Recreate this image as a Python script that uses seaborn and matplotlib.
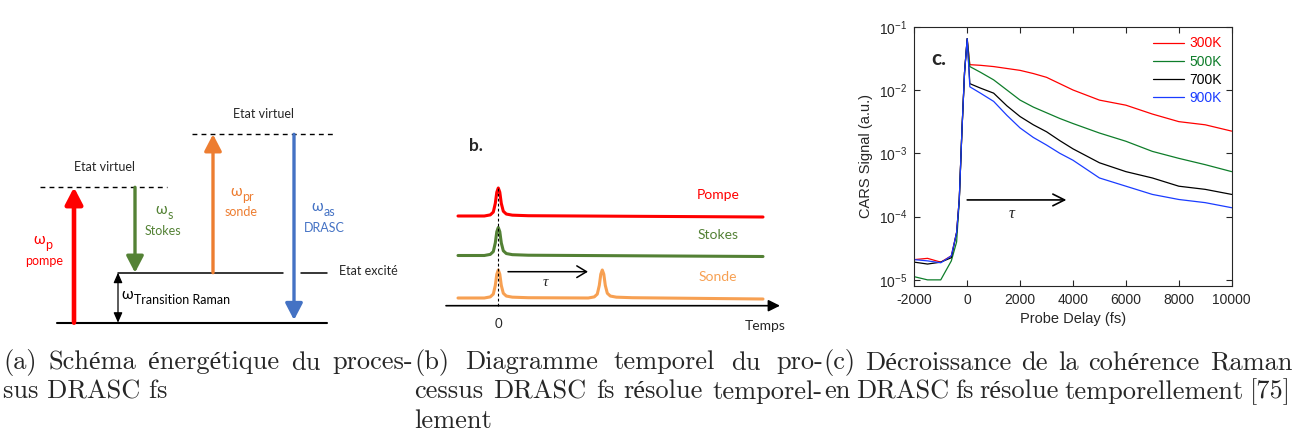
import matplotlib
matplotlib.use("Agg")
import matplotlib.pyplot as plt
import numpy as np
import pandas as pd
import seaborn as sns

# ---- panel (c): CARS signal vs probe delay, log10 values
delay_fs = [-2000, -1500, -1000, -600, -400, -300, -200, -100, 0, 100, 500, 1000, 1500,
            2000, 2500, 3000, 3500, 4000, 5000, 6000, 7000, 8000, 9000, 10000]
log_300K = [-4.68, -4.66, -4.72, -4.62, -4.25, -3.73, -2.65, -1.72, -1.19, -1.60, -1.61, -1.63, -1.66,
            -1.69, -1.74, -1.80, -1.90, -2.00, -2.16, -2.24, -2.38, -2.50, -2.55, -2.65]
log_500K = [-4.95, -5.00, -5.00, -4.70, -4.40, -3.75, -2.65, -1.72, -1.19, -1.63, -1.72, -1.84, -2.00,
            -2.16, -2.27, -2.36, -2.45, -2.53, -2.68, -2.81, -2.97, -3.08, -3.18, -3.29]
log_700K = [-4.72, -4.75, -4.72, -4.65, -4.25, -3.73, -2.65, -1.72, -1.19, -1.90, -1.97, -2.05, -2.25,
            -2.42, -2.55, -2.66, -2.80, -2.93, -3.15, -3.29, -3.39, -3.52, -3.57, -3.65]
log_900K = [-4.68, -4.70, -4.73, -4.62, -4.25, -3.73, -2.65, -1.72, -1.19, -1.95, -2.05, -2.18, -2.40,
            -2.60, -2.75, -2.87, -3.00, -3.11, -3.39, -3.52, -3.65, -3.73, -3.78, -3.86]
temperatures = ["300K", "500K", "700K", "900K"]
temp_colors = ["#ff0000", "#0e7d2a", "#000000", "#1a3cff"]
x_ticks_c = [-2000, 0, 2000, 4000, 6000, 8000, 10000]
y_ticks_c = [1e-5, 1e-4, 1e-3, 1e-2, 1e-1]

# ---- panel (a): energy diagram (x position, energy in arbitrary units)
level_energy = {"ground": 17.3, "excited": 67.3, "virtual1": 152.7, "virtual2": 205.7}
level_span = {"ground": (57, 327), "excited": (118, 283), "virtual1": (40, 167), "virtual2": (192, 335)}
beam_names = ["pompe", "Stokes", "sonde", "DRASC"]
beam_subs = ["p", "s", "pr", "as"]
beam_x = [74, 135, 213, 294]
beam_from = ["ground", "virtual1", "excited", "virtual2"]
beam_to = [152.7, 67.3, 205.7, 20.0]
beam_colors = ["#ff0000", "#548235", "#ed7d31", "#4472c4"]
beam_lw = [3.3, 2.4, 2.4, 2.4]
omega_pos = [(33, 100), (155, 130), (230, 148.3), (311.7, 133.3)]
name_pos = [(44.5, 79), (163, 109.3), (241, 128.3), (324, 111.7)]

# ---- panel (b): pulse timing diagram
pulse_labels = ["Pompe", "Stokes", "Sonde"]
pulse_colors = ["#ff0000", "#538135", "#f7a052"]
pulse_base = [124, 84.5, 42]
pulse_times = [[0], [0], [0, 104]]
pulse_height = 28
pulse_dt = [-14, -8, -5, -3, -1.5, 0, 1.5, 3, 5, 8, 14, 30]
pulse_shape = [0.0, 0.04, 0.14, 0.45, 0.85, 1.0, 0.85, 0.45, 0.17, 0.07, 0.03, 0.01]
trace_start, trace_end = -40.3, 264.7

captions = [
    [("(a) Schéma énergétique du proces-", 3, 413, True), ("sus DRASC fs", 3, None, False)],
    [("(b) Diagramme temporel du pro-", 414, 823, True),
     ("cessus DRASC fs résolue temporel-", 414, 823, True), ("lement", 414, None, False)],
    [("(c) Décroissance de la cohérence Raman", 823, 1292, True),
     ("en DRASC fs résolue temporellement [75]", 824, 1291, True)],
]
caption_baselines = [369.5, 398.5, 428.5]

W, H = 1296, 442
sns.set_style("ticks")
plt.rcParams["font.family"] = ["Liberation Sans", "DejaVu Sans"]
plt.rcParams["axes.unicode_minus"] = False
plt.rcParams["mathtext.fontset"] = "custom"
plt.rcParams["mathtext.rm"] = "Liberation Sans"
plt.rcParams["mathtext.it"] = "Liberation Sans:italic"

fig = plt.figure(figsize=(W / 100, H / 100), dpi=100)
LBL = ["Lato", "DejaVu Sans"]


def px_axes(x0, y0, x1, y1):
    ax = fig.add_axes([x0 / W, (H - y1) / H, (x1 - x0) / W, (y1 - y0) / H])
    ax.set_axis_off()
    return ax


def omega_label(ax, x, y, sub, color, size=11):
    t = ax.text(x, y, "ω", color=color, fontsize=size, family=LBL, ha="left", va="center")
    ax.annotate(sub, xy=(1, 0.5), xycoords=t, xytext=(0.5, -3.6), textcoords="offset points",
                color=color, fontsize=9, family=LBL, ha="left", va="center")


# ================= panel (a)
ax_a = px_axes(0, 90, 415, 340)
ax_a.set_xlim(0, 415)
ax_a.set_ylim(0, 250)
ax_a.plot(level_span["ground"], [level_energy["ground"]] * 2, color="black", lw=1.5)
ax_a.plot(level_span["excited"], [level_energy["excited"]] * 2, color="black", lw=1.1)
ax_a.plot([301, 327], [level_energy["excited"]] * 2, color="black", lw=1.1)
for lev in ["virtual1", "virtual2"]:
    ax_a.plot(level_span[lev], [level_energy[lev]] * 2, color="black", lw=1.0, dashes=(3.5, 3))

for x, src, dst, c, lw in zip(beam_x, beam_from, beam_to, beam_colors, beam_lw):
    ax_a.annotate("", xy=(x, dst), xytext=(x, level_energy[src]),
                  arrowprops=dict(arrowstyle="-|>,head_length=0.5,head_width=0.26", color=c,
                                  lw=lw, shrinkA=0, shrinkB=0, mutation_scale=20))
ax_a.annotate("", xy=(118, level_energy["excited"]), xytext=(118, level_energy["ground"]),
              arrowprops=dict(arrowstyle="<|-|>,head_length=0.5,head_width=0.22", color="black",
                              lw=0.9, shrinkA=0, shrinkB=0, mutation_scale=12))

for (ox, oy), (nx, ny), sub, name, c in zip(omega_pos, name_pos, beam_subs, beam_names, beam_colors):
    omega_label(ax_a, ox, oy, sub, c)
    ax_a.text(nx, ny, name, color=c, fontsize=9, family=LBL, ha="center", va="center")
omega_label(ax_a, 121.7, 45, "Transition Raman", "black")
ax_a.text(263.8, 226, "Etat virtuel", fontsize=9, family=LBL, ha="center", va="center")
ax_a.text(105, 173.3, "Etat virtuel", fontsize=9, family=LBL, ha="center", va="center")
ax_a.text(339.3, 69.3, "Etat excité", fontsize=9, family=LBL, ha="left", va="center")

# ================= panel (b)
ax_b = px_axes(440, 130, 790, 340)
ax_b.set_xlim(-58.3, 291.7)
ax_b.set_ylim(0, 210)
for lab, c, base, times in zip(pulse_labels, pulse_colors, pulse_base, pulse_times):
    xs, ys = [trace_start], [base]
    for t0 in times:
        xs += [t0 + d for d in pulse_dt]
        ys += [base + pulse_height * s for s in pulse_shape]
    xs.append(trace_end)
    ys.append(base - 1)
    ax_b.plot(xs, ys, color=c, lw=2.2, solid_joinstyle="round", solid_capstyle="round")
    ax_b.text(219.4, base + 21, lab, color=c, fontsize=10, family=LBL, ha="center", va="center")
ax_b.annotate("", xy=(281.7, 34.3), xytext=(-52.3, 34.3),
              arrowprops=dict(arrowstyle="-|>,head_length=0.5,head_width=0.25", color="black",
                              lw=1.2, shrinkA=0, shrinkB=0, mutation_scale=14))
ax_b.plot([0, 0], [34.3, 151.7], color="black", lw=0.8, dashes=(2.5, 2))
ax_b.annotate("", xy=(89.7, 68.3), xytext=(9.7, 68.3),
              arrowprops=dict(arrowstyle="->,head_length=0.5,head_width=0.3", color="black",
                              lw=1.1, shrinkA=0, shrinkB=0, mutation_scale=14))
ax_b.text(46.7, 57, "τ", family="Liberation Serif", style="italic", fontsize=11, ha="center", va="center")
ax_b.text(0, 16, "0", fontsize=9.5, family=LBL, ha="center", va="center")
ax_b.text(266.7, 14, "Temps", fontsize=10, family=LBL, ha="center", va="center")
ax_b.text(-29.3, 194, "b.", fontsize=12.5, weight="bold", family=LBL, ha="left", va="center")

# ================= panel (c)
rows = []
for temp, vals in zip(temperatures, [log_300K, log_500K, log_700K, log_900K]):
    for d, v in zip(delay_fs, vals):
        rows.append({"delay": d, "signal": 10 ** v, "temp": temp})
df = pd.DataFrame(rows)

ax_c = fig.add_axes([914.3 / W, (H - 286) / H, 317.4 / W, 259.3 / H])
sns.lineplot(data=df, x="delay", y="signal", hue="temp", palette=dict(zip(temperatures, temp_colors)),
             linewidth=0.9, ax=ax_c, estimator=None)
ax_c.set_yscale("log")
ax_c.set_xlim(-2000, 10000)
ax_c.set_ylim(8.0e-6, 0.1)
ax_c.set_xticks(x_ticks_c)
ax_c.set_yticks(y_ticks_c)
ax_c.minorticks_off()
ax_c.tick_params(direction="in", top=True, right=True, length=4, width=0.8, labelsize=10, pad=5)
for s in ax_c.spines.values():
    s.set_visible(True)
    s.set_linewidth(0.8)
ax_c.set_xlabel("Probe Delay (fs)", fontsize=10.5)
ax_c.set_ylabel("CARS Signal (a.u.)", fontsize=10.5)
h, l = ax_c.get_legend_handles_labels()
ax_c.legend(h, l, loc="upper right", frameon=False, fontsize=10, labelcolor="linecolor",
            handlelength=2.2, handletextpad=0.4, labelspacing=0.3, borderaxespad=0.35, borderpad=0.35)
ax_c.annotate("", xy=(3750, 10 ** -3.737), xytext=(0, 10 ** -3.737),
              arrowprops=dict(arrowstyle="->,head_length=0.6,head_width=0.3", color="black",
                              lw=1.2, shrinkA=0, shrinkB=0, mutation_scale=14))
ax_c.text(1673, 10 ** -3.96, "τ", family="Liberation Serif", style="italic", fontsize=12,
          ha="center", va="center")
ax_c.text(0.052, 0.875, "c.", transform=ax_c.transAxes, fontsize=15, weight="bold", family=LBL,
          ha="left", va="center")

# ================= captions (justified like the LaTeX subcaptions)
renderer = fig.canvas.get_renderer()
CAP = dict(fontsize=19, family=["cmr10", "Liberation Serif"], va="baseline", ha="left")
for col in captions:
    for (text, x0, x1, just), py in zip(col, caption_baselines):
        y = (H - py) / H
        if not just:
            fig.text(x0 / W, y, text, **CAP)
            continue
        words = text.split(" ")
        arts = [fig.text(0, y, w, **CAP) for w in words]
        widths = [a.get_window_extent(renderer).width for a in arts]
        gap = (x1 - x0 - sum(widths)) / (len(words) - 1)
        x = x0
        for a, w in zip(arts, widths):
            a.set_x(x / W)
            x += w + gap

fig.savefig("out.png", dpi=100)
